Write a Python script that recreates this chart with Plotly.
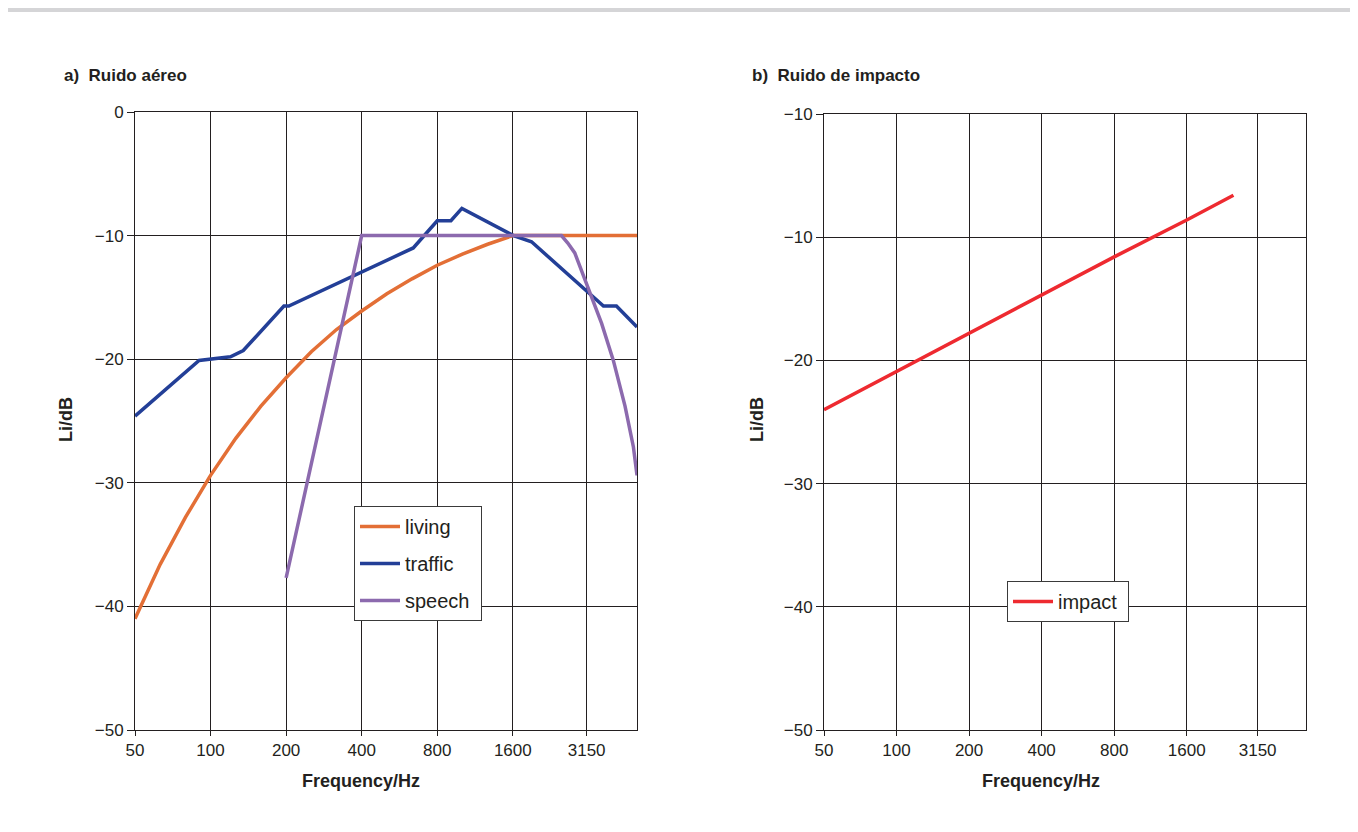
import math
import plotly.graph_objects as go

# ---------------- data ----------------
freq_ticks = [50, 100, 200, 400, 800, 1600, 3150]
freq_tick_labels = ["50", "100", "200", "400", "800", "1600", "3150"]

living_f = [50, 63, 79.4, 100, 126, 158.7, 200, 252, 317.5, 400, 504, 635, 800, 1008, 1270, 1600, 2000, 2500, 3150, 4000, 5000]
living_db = [-41.0, -36.6, -32.8, -29.4, -26.4, -23.8, -21.5, -19.4, -17.6, -16.1, -14.7, -13.5, -12.4, -11.5, -10.7, -10.0, -10.0, -10.0, -10.0, -10.0, -10.0]

traffic_f = [50, 90, 120, 135, 196, 205, 642, 800, 907, 1003, 1610, 1900, 3675, 4140, 5000]
traffic_db = [-24.6, -20.1, -19.8, -19.3, -15.7, -15.7, -11.0, -8.8, -8.8, -7.8, -10.0, -10.5, -15.7, -15.7, -17.4]

speech_f = [200, 400, 2500, 2650, 2825, 3150, 3614, 4024, 4480, 4838, 5000]
speech_db = [-37.7, -10.0, -10.0, -10.6, -11.4, -14.0, -17.1, -20.1, -23.8, -27.1, -29.4]

impact_f = [50, 100, 200, 400, 800, 1600, 2500]
impact_db = [-24.0, -20.9, -17.8, -14.7, -11.6, -8.6, -6.6]

y_ticks = [0, -10, -20, -30, -40, -50]
y_labels_a = ["0", "\u221210", "\u221220", "\u221230", "\u221240", "\u221250"]
y_labels_b = ["\u221210", "\u221210", "\u221220", "\u221230", "\u221240", "\u221250"]

# ---------------- style ----------------
W, H = 1358, 832
OFF = 8  # page body margin
FONT = "Liberation Sans, Arial, Helvetica, sans-serif"
INK = "#231f20"
C_LIVING = "#e36f36"
C_TRAFFIC = "#233f97"
C_SPEECH = "#8c6aae"
C_IMPACT = "#ee2a30"

def px(x):
    return (x - OFF) / W

def py(y):
    return 1 - (y - OFF) / H

fig = go.Figure()

fig.add_trace(go.Scatter(x=living_f, y=living_db, name="living\u00a0", mode="lines",
                         line=dict(color=C_LIVING, width=3.5),
                         legendgroup="a1", xaxis="x", yaxis="y"))
fig.add_trace(go.Scatter(x=traffic_f, y=traffic_db, name="traffic\u00a0", mode="lines",
                         line=dict(color=C_TRAFFIC, width=3.5), legendgroup="a2",
                         xaxis="x", yaxis="y"))
fig.add_trace(go.Scatter(x=speech_f, y=speech_db, name="speech\u00a0", mode="lines",
                         line=dict(color=C_SPEECH, width=3.5), legendgroup="a3",
                         xaxis="x", yaxis="y"))
fig.add_trace(go.Scatter(x=impact_f, y=impact_db, name="impact\u00a0", mode="lines",
                         line=dict(color=C_IMPACT, width=3.5), legend="legend2",
                         xaxis="x2", yaxis="y2"))

xrange_ = [math.log10(50), math.log10(5000)]

def xaxis(domain, anchor):
    return dict(type="log", range=xrange_, domain=domain, anchor=anchor,
                tickvals=freq_ticks, ticktext=freq_tick_labels,
                showgrid=True, gridcolor=INK, gridwidth=1,
                showline=True, linecolor=INK, linewidth=1, mirror=True,
                ticks="outside", ticklen=5, tickcolor=INK, automargin=False,
                tickfont=dict(family=FONT, size=17, color=INK), zeroline=False)

def yaxis(domain, anchor, labels):
    return dict(range=[-50, 0], domain=domain, anchor=anchor,
                tickvals=y_ticks, ticktext=labels,
                showgrid=True, gridcolor=INK, gridwidth=1,
                showline=True, linecolor=INK, linewidth=1, mirror=True,
                ticks="outside", ticklen=7, tickcolor=INK, automargin=False,
                tickfont=dict(family=FONT, size=17, color=INK), zeroline=False)

legend_common = dict(bgcolor="white", bordercolor="#3a3a3a", borderwidth=1,
                     font=dict(family=FONT, size=20, color=INK),
                     xanchor="left", yanchor="top", itemwidth=40)

fig.update_layout(
    template="none",
    width=W, height=H,
    margin=dict(l=0, r=0, t=0, b=0, pad=0, autoexpand=False),
    paper_bgcolor="#d5d5d7",
    plot_bgcolor="white",
    showlegend=True,
    xaxis=xaxis([px(135), px(637)], "y"),
    yaxis=yaxis([py(730), py(112)], "x", y_labels_a),
    xaxis2=xaxis([px(824), px(1306)], "y2"),
    yaxis2=yaxis([py(730), py(114)], "x2", y_labels_b),
    legend=dict(x=px(354), y=py(506), traceorder="grouped", tracegroupgap=8,
                **legend_common),
    legend2=dict(x=px(1007), y=py(581), **legend_common),
    shapes=[dict(type="rect", xref="paper", yref="paper", layer="below",
                 x0=-0.01, x1=px(1350), y0=-0.05, y1=py(12),
                 fillcolor="white", line=dict(width=0))],
)

ann = []
ann.append(dict(text="<b>a)\u00a0 Ruido aéreo</b>", x=px(62), y=py(75), xanchor="left", yanchor="middle", size=17))
ann.append(dict(text="<b>b)\u00a0 Ruido de impacto</b>", x=px(750), y=py(75), xanchor="left", yanchor="middle", size=17))
ann.append(dict(text="<b>Frequency/Hz</b>", x=px(361), y=py(781), xanchor="center", yanchor="middle", size=18))
ann.append(dict(text="<b>Frequency/Hz</b>", x=px(1041), y=py(781), xanchor="center", yanchor="middle", size=18))
ann.append(dict(text="<b>Li/dB</b>", x=px(66), y=py(420), xanchor="center", yanchor="middle", textangle=-90, size=18))
ann.append(dict(text="<b>Li/dB</b>", x=px(757), y=py(420), xanchor="center", yanchor="middle", textangle=-90, size=18))
for a in ann:
    s = a.pop("size")
    a.update(xref="paper", yref="paper", showarrow=False,
             font=dict(family=FONT, size=s, color=INK))
fig.update_layout(annotations=ann)

fig.write_html("out.html")
